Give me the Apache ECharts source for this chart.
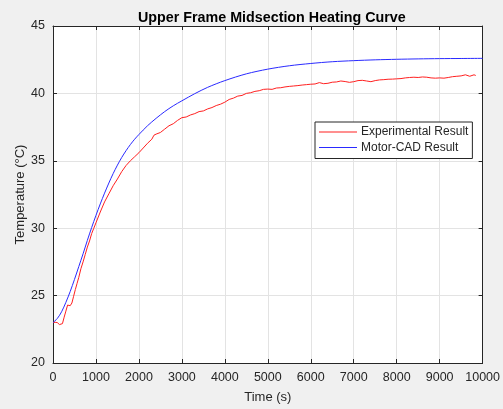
<!DOCTYPE html>
<html>
<head>
<meta charset="utf-8">
<script src="https://cdn.jsdelivr.net/npm/echarts@6/dist/echarts.min.js"></script>
<style>
html, body { margin: 0; padding: 0; background: #f0f0f0; }
#chart { width: 503px; height: 409px; }
</style>
</head>
<body>
<div id="chart"></div>
<script>
// Motor-CAD result (smooth curve)
const cadTime = [0, 100, 200, 300, 400, 500, 600, 700, 800, 900, 1000, 1100, 1200, 1300, 1400, 1500, 1600,
  1700, 1800, 1900, 2000, 2200, 2400, 2600, 2800, 3000, 3300, 3600, 4000, 4500, 5000, 5500, 6000,
  6500, 7000, 7500, 8000, 8500, 9000, 9500, 10000]
const cadTemp = [23.0, 23.3, 23.8, 24.5, 25.3, 26.2, 27.15, 28.1, 29.1, 30.05, 30.95, 31.8, 32.6, 33.35,
  34.05, 34.68, 35.25, 35.75, 36.2, 36.6, 36.95, 37.6, 38.15, 38.65, 39.08, 39.45, 39.98, 40.45,
  40.95, 41.45, 41.8, 42.05, 42.22, 42.35, 42.43, 42.49, 42.53, 42.56, 42.58, 42.59, 42.6]

// experimental result (measured, noisy)
const expTime = [0, 50, 100, 150, 180, 220, 260, 300, 340, 370, 400, 440, 480, 520, 560, 600, 650, 700,
  750, 800, 850, 900, 950, 1000, 1100, 1200, 1300, 1400, 1500, 1600, 1700, 1800, 1900, 2000, 2100,
  2200, 2300, 2350, 2400, 2500, 2600, 2700, 2800, 2900, 3000, 3100, 3200, 3300, 3400, 3500, 3600,
  3700, 3800, 3900, 4000, 4100, 4200, 4300, 4400, 4500, 4600, 4700, 4800, 4900, 5000, 5100, 5200,
  5300, 5400, 5500, 5600, 5700, 5800, 5900, 6000, 6100, 6200, 6300, 6400, 6500, 6600, 6700, 6800,
  6900, 7000, 7100, 7200, 7300, 7400, 7500, 7600, 7700, 7800, 7900, 8000, 8100, 8200, 8300, 8400,
  8500, 8600, 8700, 8800, 8900, 9000, 9100, 9200, 9300, 9400, 9500, 9600, 9700, 9800, 9840]
const expTemp = [23.0, 23.02, 23.0, 22.85, 22.78, 22.92, 23.4, 23.85, 24.3, 24.35, 24.25, 24.45, 24.95,
  25.45, 25.9, 26.35, 27.0, 27.5, 28.05, 28.6, 29.05, 29.6, 30.0, 30.4, 31.2, 31.95, 32.55, 33.15,
  33.65, 34.2, 34.65, 35.0, 35.3, 35.6, 35.95, 36.3, 36.6, 36.9, 36.98, 37.1, 37.35, 37.6, 37.75, 38.0,
  38.2, 38.25, 38.4, 38.5, 38.65, 38.7, 38.85, 38.95, 39.1, 39.2, 39.35, 39.55, 39.65, 39.8, 39.85,
  40.0, 40.05, 40.15, 40.2, 40.3, 40.32, 40.3, 40.4, 40.42, 40.48, 40.52, 40.55, 40.58, 40.62, 40.65,
  40.68, 40.7, 40.8, 40.72, 40.75, 40.83, 40.85, 40.92, 40.88, 40.82, 40.87, 40.95, 40.97, 40.92,
  40.87, 40.95, 41.0, 41.02, 41.05, 41.06, 41.08, 41.1, 41.15, 41.18, 41.2, 41.18, 41.22, 41.2, 41.15,
  41.13, 41.15, 41.13, 41.18, 41.24, 41.27, 41.3, 41.38, 41.27, 41.38, 41.33]

const xTicks = [0, 10000, 1000]
const yTicks = [20, 45, 5]

const font = 'Liberation Sans, Arial, Helvetica, sans-serif'
const axisColor = '#262626'

const chart = echarts.init(document.getElementById('chart'))

function frameAxis (pos, ticks, labels) {
  return {
    type: 'value',
    position: pos,
    min: ticks[0],
    max: ticks[1],
    interval: ticks[2],
    axisLine: { show: true, onZero: false, lineStyle: { color: axisColor, width: 1 } },
    axisTick: { show: true, inside: true, length: 4, lineStyle: { color: axisColor } },
    axisLabel: {
      show: labels, color: axisColor, fontSize: 12.5, fontFamily: font, margin: 8,
      formatter: v => String(v)
    },
    splitLine: { show: labels, lineStyle: { color: '#e3e3e3', width: 1 } }
  }
}

const xMain = frameAxis('bottom', xTicks, true)
xMain.name = 'Time (s)'
xMain.nameLocation = 'middle'
xMain.nameGap = 28
xMain.nameMoveOverlap = false
xMain.nameTextStyle = { color: axisColor, fontSize: 13, fontFamily: font }

const yMain = frameAxis('left', yTicks, true)
yMain.name = 'Temperature (°C)'
yMain.nameLocation = 'middle'
yMain.nameGap = 26
yMain.nameMoveOverlap = false
yMain.nameTextStyle = { color: axisColor, fontSize: 13, fontFamily: font }

const option = {
  backgroundColor: '#f0f0f0',
  animation: false,
  title: {
    text: 'Upper Frame Midsection Heating Curve',
    left: 133,
    top: 6,
    textStyle: { fontSize: 14.3, fontWeight: 'bold', color: '#000', fontFamily: font }
  },
  grid: {
    left: 53, right: 20, top: 26, bottom: 44,
    show: true, backgroundColor: '#ffffff', borderWidth: 0
  },
  legend: {
    orient: 'vertical',
    left: 315,
    top: 122,
    padding: [4, 4, 5, 4],
    itemGap: 3.5,
    itemWidth: 38,
    itemHeight: 1,
    icon: 'rect',
    backgroundColor: '#ffffff',
    borderColor: axisColor,
    borderWidth: 1,
    borderRadius: 0,
    textStyle: { color: axisColor, fontSize: 12, fontFamily: font, padding: [0, 0, 0, -1] },
    data: ['Experimental Result', 'Motor-CAD Result']
  },
  xAxis: [xMain, frameAxis('top', xTicks, false)],
  yAxis: [yMain, frameAxis('right', yTicks, false)],
  series: [
    {
      name: 'Experimental Result',
      type: 'line',
      showSymbol: false,
      data: expTime.map((t, i) => [t, expTemp[i]]),
      lineStyle: { color: '#ff2020', width: 1 },
      itemStyle: { color: '#ff2020' }
    },
    {
      name: 'Motor-CAD Result',
      type: 'line',
      smooth: 0.3,
      showSymbol: false,
      data: cadTime.map((t, i) => [t, cadTemp[i]]),
      lineStyle: { color: '#2a2aff', width: 1 },
      itemStyle: { color: '#2a2aff' }
    }
  ]
}

chart.setOption(option)
</script>
</body>
</html>
